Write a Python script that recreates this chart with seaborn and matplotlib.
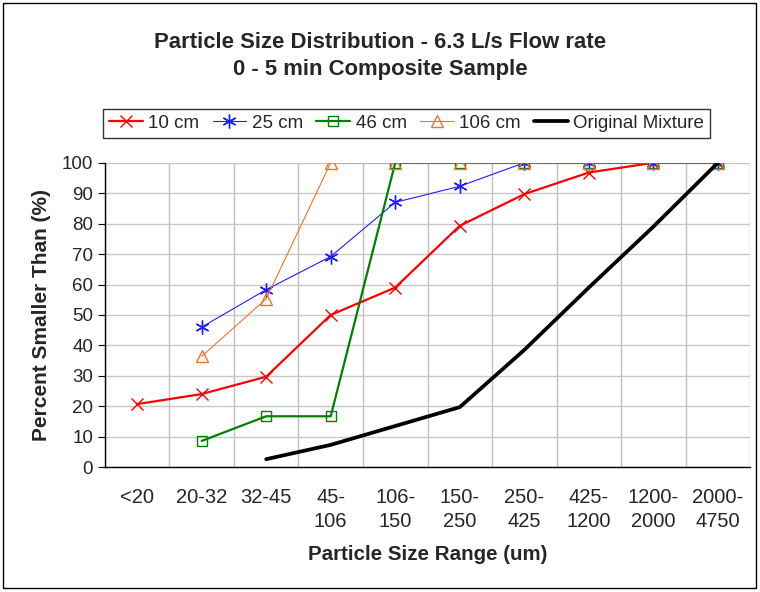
import numpy as np
import pandas as pd
import matplotlib
matplotlib.use("Agg")
import matplotlib.pyplot as plt
import seaborn as sns
from matplotlib.patches import Rectangle

categories = ["<20", "20-32", "32-45", "45-\n106", "106-\n150", "150-\n250",
              "250-\n425", "425-\n1200", "1200-\n2000", "2000-\n4750"]

cm10 = [20.7, 24.0, 29.7, 50.0, 59.0, 79.3, 89.7, 96.8, 100, 100]
cm25 = [None, 46.0, 58.3, 69.2, 87.0, 92.3, 100, 100, 100, 100]
cm46 = [None, 8.6, 16.7, 16.7, 100, 100, 100, 100, 100, 100]
cm106 = [None, 36.4, 55.3, 100, 100, 100, 100, 100, 100, 100]
original = [None, None, 2.6, 7.3, 13.5, 19.7, 38.5, 59.0, 79.0, 100]

series = [
    ("10 cm", cm10, "#FF0000", "x", 1.6, 9),
    ("25 cm", cm25, "#2020FF", (6, 2, 0), 0.8, 10),
    ("46 cm", cm46, "#008000", "s", 1.6, 7),
    ("106 cm", cm106, "#FF7022", "^", 0.8, 8),
    ("Original Mixture", original, "#000000", None, 2.7, 0),
]

sns.set_style("white")
plt.rcParams["font.family"] = ["Liberation Sans", "DejaVu Sans"]

fig = plt.figure(figsize=(7.6, 5.92), dpi=100)
ax = fig.add_axes([0.138, 0.211, 0.849, 0.514])

pos = np.arange(len(categories))
for name, vals, color, marker, lw, ms in series:
    df = pd.DataFrame({"pos": pos, "val": vals}).dropna()
    kw = dict(marker=marker, markersize=ms, markerfacecolor="none",
              markeredgecolor=color, markeredgewidth=1.0) if marker else {}
    sns.lineplot(data=df, x="pos", y="val", ax=ax, color=color, linewidth=lw,
                 label=name, **kw)

ax.set_xlim(-0.5, len(categories) - 0.5)
ax.set_ylim(0, 100)
ax.set_yticks(range(0, 101, 10))
ax.set_xticks(pos)
ax.set_xticklabels(categories, fontsize=14.5, linespacing=1.35)
ax.set_xticks(np.arange(-0.5, len(categories), 1), minor=True)
ax.tick_params(axis="x", which="major", length=0, pad=15)
ax.tick_params(axis="x", which="minor", length=8, direction="inout", color="black")
ax.tick_params(axis="y", labelsize=13.5, length=5, direction="out", color="black", left=True)
ax.grid(True, which="minor", axis="x", color="#C0C0C0", linewidth=1)
ax.grid(True, which="major", axis="y", color="#C8C8C8", linewidth=1)
for s in ["top", "right"]:
    ax.spines[s].set_visible(False)
for s in ["left", "bottom"]:
    ax.spines[s].set_color("black")
    ax.spines[s].set_linewidth(1)

ax.set_xlabel("Particle Size Range (um)", fontsize=14.8, fontweight="bold", labelpad=10)
ax.set_ylabel("Percent Smaller Than (%)", fontsize=15, fontweight="bold", labelpad=8)

leg = ax.legend(loc="lower left", bbox_to_anchor=(-0.003, 1.082), ncol=5, fontsize=13.5,
                frameon=True, fancybox=False, edgecolor="black", handlelength=1.8,
                handletextpad=0.3, columnspacing=0.7, borderpad=0.32, borderaxespad=0)
leg.get_frame().set_linewidth(1)

fig.text(0.5, 0.929, "Particle Size Distribution - 6.3 L/s Flow rate",
         ha="center", va="center", fontsize=15.9, fontweight="bold")
fig.text(0.5, 0.882, "0 - 5 min Composite Sample",
         ha="center", va="center", fontsize=15.9, fontweight="bold")

fig.patches.append(Rectangle((0.004, 0.007), 0.991, 0.988, transform=fig.transFigure,
                             fill=False, edgecolor="black", linewidth=1))

fig.savefig("out.png", dpi=100)
